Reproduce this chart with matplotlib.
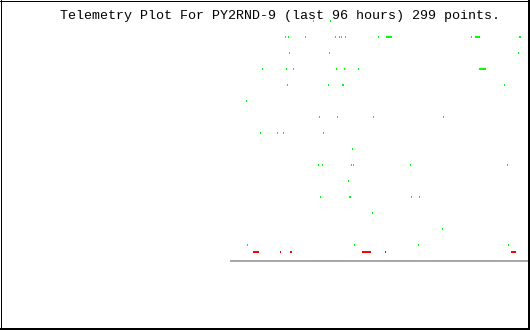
#!/usr/bin/env python3
"""Telemetry plot for PY2RND-9, last 96 hours."""
import matplotlib
matplotlib.use("Agg")
import matplotlib.pyplot as plt
from matplotlib.lines import Line2D

TITLE = "Telemetry Plot For PY2RND-9 (last 96 hours) 299 points."
HOURS = 96

# green readings: one level per row, times in hours from window start
green_levels = [240, 224, 208, 192, 176, 160, 144, 128, 112, 96, 80, 64, 48, 32, 16]
green_hours = [
    [26.74, 32.21],
    [17.72, 18.68, 24.16, 33.83, 35.11, 35.76, 37.05, 47.68,
     50.26, 50.58, 50.90, 51.22, 51.54, 51.87, 77.64,
     78.93, 79.25, 79.57, 79.89, 80.21, 93.10, 93.42],
    [19.01, 31.89, 92.78],
    [10.31, 18.04, 20.30, 34.15, 36.72, 41.23,
     80.21, 80.54, 80.86, 81.18, 81.50, 81.82, 82.15],
    [18.36, 31.57, 36.08, 36.40, 88.27],
    [5.15],
    [28.67, 34.47, 46.07, 68.62],
    [9.66, 15.14, 17.07, 29.96],
    [39.30],
    [28.35, 29.64, 38.98, 39.62, 57.99, 89.23],
    [38.01],
    [28.99, 38.34, 38.66, 58.31, 60.89],
    [45.74],
    [68.30],
    [5.48, 39.95, 60.56, 89.56],
]

# red readings (all on the low level)
red_level = 9
red_hours = [7.41, 7.73, 8.05, 8.38, 8.70, 9.02, 16.11, 19.33, 19.65,
             42.52, 42.85, 43.17, 43.49, 43.81, 44.13, 44.46, 44.78, 45.10,
             49.93, 90.52, 90.85, 91.17, 91.49, 91.81]

W, H, DPI = 530, 330, 100
PLOT_LEFT = 230
BASE_Y = 261
PX_PER_HOUR = 298 / HOURS


def main():
    fig = plt.figure(figsize=(W / DPI, H / DPI), dpi=DPI)
    fig.patch.set_facecolor("white")

    ax = fig.add_axes([PLOT_LEFT / W, 0, (W - PLOT_LEFT) / W, 1])
    ax.set_axis_off()
    half = 0.5 / PX_PER_HOUR
    ax.set_xlim(-half, (W - PLOT_LEFT) / PX_PER_HOUR - half)
    ax.set_ylim(BASE_Y - H, BASE_Y)

    ax.axhline(0, color="#a8a8a8", lw=2 * 72 / DPI, xmax=298 / 300)

    gx, gy = [], []
    for lvl, hrs in zip(green_levels, green_hours):
        gx += hrs
        gy += [lvl - 1] * len(hrs)
    dot_w = 1.02 / PX_PER_HOUR
    ax.bar(gx, 2, width=dot_w, bottom=gy, color="#00ff00",
           linewidth=0, antialiased=False)
    ax.bar(red_hours, 2, width=dot_w, bottom=red_level - 1, color="#ff0000",
           linewidth=0, antialiased=False)

    fig.text(60 / W, 1 - 19.5 / H, TITLE, family="Liberation Mono",
             fontsize=9.65, va="baseline", ha="left", color="black")

    # frame round the image
    px = lambda x: x / W
    py = lambda y: 1 - y / H
    for (x0, y0, x1, y1, lw) in [(0.5, 0, 0.5, H, 1), (0, 0.5, W, 0.5, 1),
                                 (529, 0, 529, H, 2), (0, 329, W, 329, 2)]:
        fig.add_artist(Line2D([px(x0), px(x1)], [py(y0), py(y1)],
                              color="black", lw=lw * 72 / DPI,
                              transform=fig.transFigure, antialiased=False))

    fig.savefig("out.png", dpi=DPI)
    plt.close(fig)


if __name__ == "__main__":
    main()
